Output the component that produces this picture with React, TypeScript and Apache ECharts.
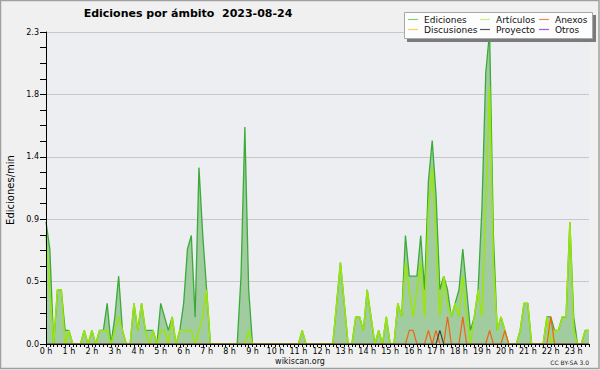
import React, { useEffect, useRef } from "react";
import * as echarts from "echarts";

// 10-minute slots from 00:00 to 23:40
const SLOTS: string[] = Array.from({ length: 143 }, (_, i) =>
  `${Math.floor(i / 6)}:${String((i % 6) * 10).padStart(2, "0")}`
);
const HOUR_LABELS = [
  "0 h", "1 h", "2 h", "3 h", "4 h", "5 h", "6 h", "7 h", "8 h", "9 h", "10 h", "11 h",
  "12 h", "13 h", "14 h", "15 h", "16 h", "17 h", "18 h", "19 h", "20 h", "21 h", "22 h", "23 h",
];
const Y_TICKS = [0, 0.46, 0.92, 1.38, 1.84, 2.3];

const ediciones = [
  0.9, 0.7, 0, 0.4, 0.4, 0.1, 0.1, 0, 0, 0, 0.1, 0,
  0.1, 0, 0.1, 0.1, 0.3, 0, 0.2, 0.5, 0.1, 0, 0, 0.3,
  0.1, 0.3, 0.1, 0.1, 0.1, 0, 0.3, 0.2, 0.1, 0.2, 0, 0.1,
  0.3, 0.7, 0.8, 0.2, 1.3, 0.8, 0.4, 0, 0, 0, 0, 0,
  0, 0, 0, 0.5, 1.6, 0.4, 0, 0, 0, 0, 0, 0,
  0, 0, 0, 0, 0, 0, 0, 0.1, 0, 0, 0, 0,
  0, 0, 0, 0, 0.3, 0.6, 0.3, 0, 0, 0.2, 0.2, 0.1,
  0.4, 0.2, 0, 0.1, 0, 0.2, 0, 0, 0.3, 0.2, 0.8, 0.5,
  0.5, 0.5, 0.8, 0.4, 1.2, 1.5, 1.1, 0.4, 0.5, 0.4, 0.2, 0.3,
  0.4, 0.7, 0.4, 0.1, 0.2, 0.4, 1.0, 2.0, 2.3, 0.8, 0.1, 0.2,
  0.1, 0, 0, 0, 0.1, 0.3, 0.3, 0, 0, 0, 0, 0.2,
  0.2, 0.1, 0.1, 0.2, 0.2, 0.9, 0.2, 0, 0, 0.1, 0.1,
];

const articulos = [
  0.8, 0.4, 0, 0.4, 0.4, 0, 0.1, 0, 0, 0, 0.1, 0,
  0.1, 0, 0.1, 0.1, 0.1, 0, 0.1, 0.2, 0.1, 0, 0, 0.3,
  0.1, 0.3, 0.1, 0, 0.1, 0, 0.1, 0.1, 0, 0.2, 0, 0.1,
  0.1, 0.1, 0.1, 0, 0.1, 0.2, 0.4, 0, 0, 0, 0, 0,
  0, 0, 0, 0, 0, 0.1, 0, 0, 0, 0, 0, 0,
  0, 0, 0, 0, 0, 0, 0, 0.1, 0, 0, 0, 0,
  0, 0, 0, 0, 0.3, 0.6, 0.3, 0, 0, 0.2, 0.2, 0.1,
  0.4, 0.2, 0, 0.1, 0, 0.2, 0, 0, 0.3, 0.2, 0.6, 0.4,
  0.2, 0.4, 0.6, 0.2, 1.0, 1.3, 0.8, 0.2, 0.5, 0.3, 0.2, 0.3,
  0.2, 0.5, 0.2, 0, 0.2, 0.4, 0.2, 1.0, 1.9, 0.6, 0.1, 0.2,
  0.1, 0, 0, 0, 0.1, 0.3, 0.3, 0, 0, 0, 0, 0.2,
  0, 0.1, 0.1, 0.2, 0.2, 0.9, 0.1, 0, 0, 0.1, 0.1,
];

const anexos = [
  0, 0, 0, 0, 0, 0, 0, 0, 0, 0, 0, 0,
  0, 0, 0, 0, 0, 0, 0, 0, 0, 0, 0, 0,
  0, 0, 0, 0, 0, 0, 0, 0, 0, 0, 0, 0,
  0, 0, 0, 0, 0, 0, 0, 0, 0, 0, 0, 0,
  0, 0, 0, 0, 0, 0, 0, 0, 0, 0, 0, 0,
  0, 0, 0, 0, 0, 0, 0, 0, 0, 0, 0, 0,
  0, 0, 0, 0, 0, 0, 0, 0, 0, 0, 0, 0,
  0, 0, 0, 0, 0, 0, 0, 0, 0, 0, 0, 0.1,
  0.1, 0, 0, 0, 0.1, 0, 0.1, 0, 0, 0.2, 0, 0,
  0, 0.2, 0, 0, 0, 0, 0, 0, 0.1, 0, 0, 0,
  0.1, 0, 0, 0, 0, 0, 0, 0, 0, 0, 0, 0,
  0.2, 0, 0, 0, 0, 0, 0, 0, 0, 0, 0,
];

const proyecto = [
  0, 0, 0, 0, 0, 0, 0, 0, 0, 0, 0, 0,
  0, 0, 0, 0, 0, 0, 0, 0, 0, 0, 0, 0,
  0, 0, 0, 0, 0, 0, 0, 0, 0, 0, 0, 0,
  0, 0, 0, 0, 0, 0, 0, 0, 0, 0, 0, 0,
  0, 0, 0, 0, 0, 0, 0, 0, 0, 0, 0, 0,
  0, 0, 0, 0, 0, 0, 0, 0, 0, 0, 0, 0,
  0, 0, 0, 0, 0, 0, 0, 0, 0, 0, 0, 0,
  0, 0, 0, 0, 0, 0, 0, 0, 0, 0, 0, 0,
  0, 0, 0, 0, 0, 0, 0, 0.1, 0, 0, 0, 0,
  0, 0, 0, 0, 0, 0, 0, 0, 0, 0, 0, 0,
  0, 0, 0, 0, 0, 0, 0, 0, 0, 0, 0, 0,
  0, 0, 0, 0, 0, 0, 0, 0, 0, 0, 0,
];

const discusiones: number[] = [];
const otros: number[] = [];

const LEGEND_NAMES = [
  ["Ediciones", "Artículos", "Anexos"],
  ["Discusiones", "Proyecto", "Otros"],
];

const TITLE = "Ediciones por ámbito  2023-08-24";
const Y_NAME = "Ediciones/min";

const FONT = "DejaVu Sans";
const LEGEND_COLORS: Record<string, string> = {
  Ediciones: "#86cf86",
  Artículos: "#c6ee80",
  Anexos: "#f08a55",
  Discusiones: "#f5d458",
  Proyecto: "#555555",
  Otros: "#a055ee",
};

export default function App() {
  const ref = useRef<HTMLDivElement>(null);

  useEffect(() => {
    document.body.style.margin = "0";
    if (!ref.current) return;
    const chart = echarts.init(ref.current, undefined, { renderer: "svg" });

    const legendX = [408, 480, 539];
    const legendY = [19.5, 29.5];
    const legendGraphics: any[] = [
      { type: "rect", shape: { x: 407, y: 15, width: 189, height: 27 }, style: { fill: "#7a7a7a" }, z: 100 },
      { type: "rect", shape: { x: 404.5, y: 12.5, width: 188, height: 26 }, style: { fill: "#fdfdfd", stroke: "#a8a8a8", lineWidth: 1 }, z: 101 },
    ];
    LEGEND_NAMES.forEach((row, r) => {
      row.forEach((name, c) => {
        legendGraphics.push({
          type: "line",
          shape: { x1: legendX[c], y1: legendY[r], x2: legendX[c] + 10, y2: legendY[r] },
          style: { stroke: LEGEND_COLORS[name], lineWidth: 1.2 },
          z: 102,
        });
        legendGraphics.push({
          type: "text",
          x: legendX[c] + 16,
          y: legendY[r],
          style: { text: name, font: `9px '${FONT}'`, fill: "#111", textVerticalAlign: "middle", verticalAlign: "middle" },
          z: 102,
        });
      });
    });

    const option: any = {
      animation: false,
      backgroundColor: "#f0f0f0",
      grid: {
        left: 46, right: 11, top: 32, bottom: 26,
        show: true, backgroundColor: "#eceef1", borderWidth: 0,
      },
      xAxis: {
        type: "category",
        data: SLOTS,
        boundaryGap: false,
        z: 10,
        axisLine: { show: true, lineStyle: { color: "#000", width: 1 } },
        axisTick: { show: true, interval: 0, length: 3, lineStyle: { color: "#000", width: 1 } },
        axisLabel: {
          interval: (i: number) => i % 6 === 0,
          formatter: (_v: string, i: number) => HOUR_LABELS[Math.floor(i / 6)],
          fontSize: 8, fontFamily: FONT, color: "#000", margin: 3,
        },
        splitLine: { show: false },
      },
      yAxis: [
        {
          type: "value", min: 0, max: 2.3, interval: 0.46, z: 0,
          axisLine: { show: false }, axisTick: { show: false }, axisLabel: { show: false },
          splitLine: { show: true, lineStyle: { color: "#c8c8c8", width: 1 } },
        },
        {
          type: "value", min: 0, max: 2.3, interval: 0.46, z: 10, position: "left",
          axisLine: { show: true, lineStyle: { color: "#000", width: 1 } },
          axisTick: { show: true, length: 6, lineStyle: { color: "#000" } },
          minorTick: { show: true, splitNumber: 4, length: 6, lineStyle: { color: "#000" } },
          axisLabel: {
            formatter: (v: number) => (Y_TICKS.some((t) => Math.abs(t - v) < 1e-6) ? v.toFixed(1) : ""),
            fontSize: 8, fontFamily: FONT, color: "#000", margin: 7,
          },
          splitLine: { show: false },
        },
      ],
      series: [
        {
          name: "Ediciones", type: "line", data: ediciones, yAxisIndex: 0, symbol: "none",
          lineStyle: { color: "#3aaa38", width: 1.3 },
          areaStyle: { color: "#a0cca0", opacity: 1 },
          z: 2,
        },
        { name: "Discusiones", type: "line", data: discusiones, symbol: "none", lineStyle: { color: "#f0c020", width: 1.2 }, z: 3 },
        {
          name: "Artículos", type: "line", data: articulos, symbol: "none",
          lineStyle: { color: "#9be60a", width: 1.5 }, z: 4,
        },
        { name: "Anexos", type: "line", data: anexos, symbol: "none", lineStyle: { color: "#f06414", width: 1.2 }, z: 5 },
        { name: "Proyecto", type: "line", data: proyecto, symbol: "none", lineStyle: { color: "#3a3a3a", width: 1.1 }, z: 6 },
        { name: "Otros", type: "line", data: otros, symbol: "none", lineStyle: { color: "#9a40e8", width: 1.2 }, z: 7 },
      ],
      graphic: [
        { type: "rect", shape: { x: 0.5, y: 0.5, width: 598.5, height: 368 }, style: { fill: "none", stroke: "#a0a0a0", lineWidth: 1.5 }, z: 200, silent: true },
        {
          type: "text", x: 188, y: 13.5,
          style: { text: TITLE, font: `bold 11px '${FONT}'`, fill: "#000", textAlign: "center", align: "center", textVerticalAlign: "middle", verticalAlign: "middle" },
        },
        {
          type: "text", x: 10, y: 190, rotation: Math.PI / 2,
          style: { text: Y_NAME, font: `10px '${FONT}'`, fill: "#000", textAlign: "center", align: "center", textVerticalAlign: "middle", verticalAlign: "middle" },
        },
        {
          type: "text", x: 300, y: 361,
          style: { text: "wikiscan.org", font: `8px '${FONT}'`, fill: "#111", textAlign: "center", align: "center", textVerticalAlign: "middle", verticalAlign: "middle" },
        },
        {
          type: "text", x: 589, y: 362.5,
          style: { text: "CC BY-SA 3.0", font: `6px '${FONT}'`, fill: "#222", textAlign: "right", align: "right", textVerticalAlign: "middle", verticalAlign: "middle" },
        },
        ...legendGraphics,
      ],
    };

    chart.setOption(option);
    return () => chart.dispose();
  }, []);

  return <div ref={ref} style={{ width: 600, height: 370 }} />;
}
